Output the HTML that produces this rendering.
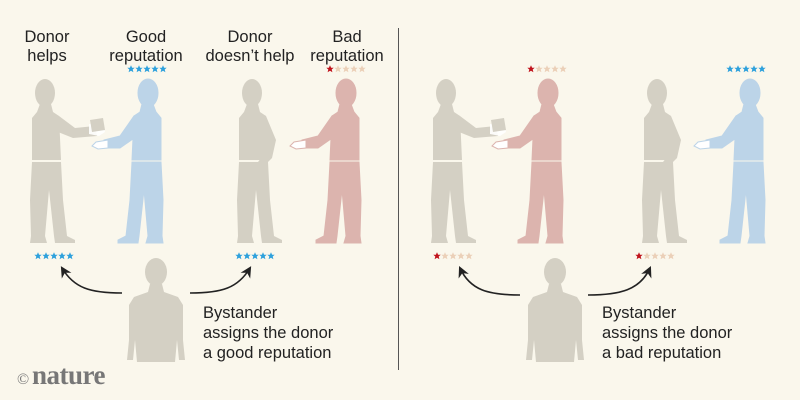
<!DOCTYPE html>
<html><head><meta charset="utf-8"><style>
html,body{margin:0;padding:0;background:#faf7ec;}
svg{display:block;}
text{font-family:"Liberation Sans",sans-serif;fill:#222;}
</style></head><body>
<svg width="800" height="400" viewBox="0 0 800 400" xmlns="http://www.w3.org/2000/svg">
<rect width="800" height="400" fill="#faf7ec"/>
<defs>
  <g id="body">
    <ellipse cx="0" cy="93" rx="10" ry="14"/>
    <path d="M-5,104 L6,104 L8,112 L14,116 L16,160 L-13,160 L-13,118 L-8,112 Z"/>
    <path d="M-13,162 L16,162 L18,200 L22,236 L30,240 L30,243 L10,243 L9,236 L4,190 L0,236 L2,243 L-15,243 L-14,236 L-15,200 Z"/>
  </g>
  <g id="giver">
    <use href="#body"/>
    <path d="M6,114 L14,116 L30,128 L50,126 L52,136 L28,138 L8,130 Z"/>
    <path d="M44,124 L58,123 L60,132 L54,136 L44,134 Z" fill="#fff" opacity="0.9"/>
    <path d="M45,120 L58,118 L60,130 L47,132 Z"/>
  </g>
  <g id="keeper">
    <use href="#body"/>
    <path d="M6,114 L14,116 L24,140 L20,158 L10,168 L6,162 L14,152 L14,140 L4,124 Z"/>
  </g>
  <g id="taker">
    <use href="#body"/>
    <path d="M6,114 L14,116 L28,136 L44,140 L44,148 L28,148 L8,134 Z"/>
    <path d="M40,140 L52,142 L56,146 L50,149 L40,148 Z" fill="#fff" stroke-width="1"/>
  </g>
  <g id="bystander">
    <ellipse cx="0" cy="272" rx="11" ry="14"/>
    <path d="M-6,284 L6,284 L8,292 L22,297 L27,305 L27,340 L29,360 L23,360 L21,340 L19,362 L-19,362 L-21,340 L-23,360 L-29,360 L-27,340 L-27,305 L-22,297 L-8,292 Z"/>
  </g>
  <g id="s"><polygon points="0,-3.8 1.1,-1.2 3.7,-1.2 1.7,0.5 2.4,3.3 0,1.7 -2.4,3.3 -1.7,0.5 -3.7,-1.2 -1.1,-1.2"/></g>
  <g id="good" fill="#2ea1dc"><use href="#s" x="0"/><use href="#s" x="8"/><use href="#s" x="16"/><use href="#s" x="24"/><use href="#s" x="32"/></g>
  <g id="bad" fill="#ebd0b8"><use href="#s" x="0" fill="#c0131c"/><use href="#s" x="8"/><use href="#s" x="16"/><use href="#s" x="24"/><use href="#s" x="32"/></g>
  <marker id="ah" viewBox="0 0 10 10" refX="8" refY="5" markerWidth="7" markerHeight="7" orient="auto-start-reverse"><path d="M0,0 L10,5 L0,10 L3,5 Z" fill="#222"/></marker>
</defs>

<!-- Left panel -->
<g fill="#d4d0c4"><use href="#giver" x="45"/></g>
<g fill="#bcd4e8" stroke="#bcd4e8"><g transform="translate(148,0) scale(-1,1)"><use href="#taker"/></g></g>
<g fill="#d4d0c4"><use href="#keeper" x="252"/></g>
<g fill="#dcb4ae" stroke="#dcb4ae"><g transform="translate(346,0) scale(-1,1)"><use href="#taker"/></g></g>
<g fill="#d4d0c4"><use href="#bystander" x="156"/></g>

<use href="#good" x="131" y="69"/>
<use href="#bad" x="330" y="69"/>
<use href="#good" x="38" y="256"/>
<use href="#good" x="239" y="256"/>

<path d="M122,293 C90,293 74,288 62,268" fill="none" stroke="#222" stroke-width="1.6" marker-end="url(#ah)"/>
<path d="M190,293 C222,293 238,288 250,268" fill="none" stroke="#222" stroke-width="1.6" marker-end="url(#ah)"/>

<g font-size="16.5" text-anchor="middle">
<text x="47" y="42">Donor</text><text x="47" y="61">helps</text>
<text x="146" y="42">Good</text><text x="146" y="61">reputation</text>
<text x="250" y="42">Donor</text><text x="250" y="61">doesn’t help</text>
<text x="347" y="42">Bad</text><text x="347" y="61">reputation</text>
</g>
<g font-size="16.5">
<text x="203" y="318">Bystander</text>
<text x="203" y="338">assigns the donor</text>
<text x="203" y="358">a good reputation</text>
<text x="602" y="318">Bystander</text>
<text x="602" y="338">assigns the donor</text>
<text x="602" y="358">a bad reputation</text>
</g>

<line x1="398.5" y1="28" x2="398.5" y2="370" stroke="#555" stroke-width="1"/>

<!-- Right panel -->
<g fill="#d4d0c4"><use href="#giver" x="446"/></g>
<g fill="#dcb4ae" stroke="#dcb4ae"><g transform="translate(548,0) scale(-1,1)"><use href="#taker"/></g></g>
<g fill="#d4d0c4"><use href="#keeper" x="657"/></g>
<g fill="#bcd4e8" stroke="#bcd4e8"><g transform="translate(750,0) scale(-1,1)"><use href="#taker"/></g></g>
<g fill="#d4d0c4"><use href="#bystander" x="555"/></g>

<use href="#bad" x="531" y="69"/>
<use href="#good" x="730" y="69"/>
<use href="#bad" x="437" y="256"/>
<use href="#bad" x="639" y="256"/>

<path d="M520,295 C488,295 470,290 460,268" fill="none" stroke="#222" stroke-width="1.6" marker-end="url(#ah)"/>
<path d="M588,295 C620,295 640,290 650,268" fill="none" stroke="#222" stroke-width="1.6" marker-end="url(#ah)"/>

<text x="17" y="384" style="fill:#777;font-family:'Liberation Serif',serif;font-size:16px">©</text>
<text x="32" y="384" style="fill:#777;font-family:'Liberation Serif',serif;font-size:27px;font-weight:bold;letter-spacing:-0.5px">nature</text>
</svg>
</body></html>
